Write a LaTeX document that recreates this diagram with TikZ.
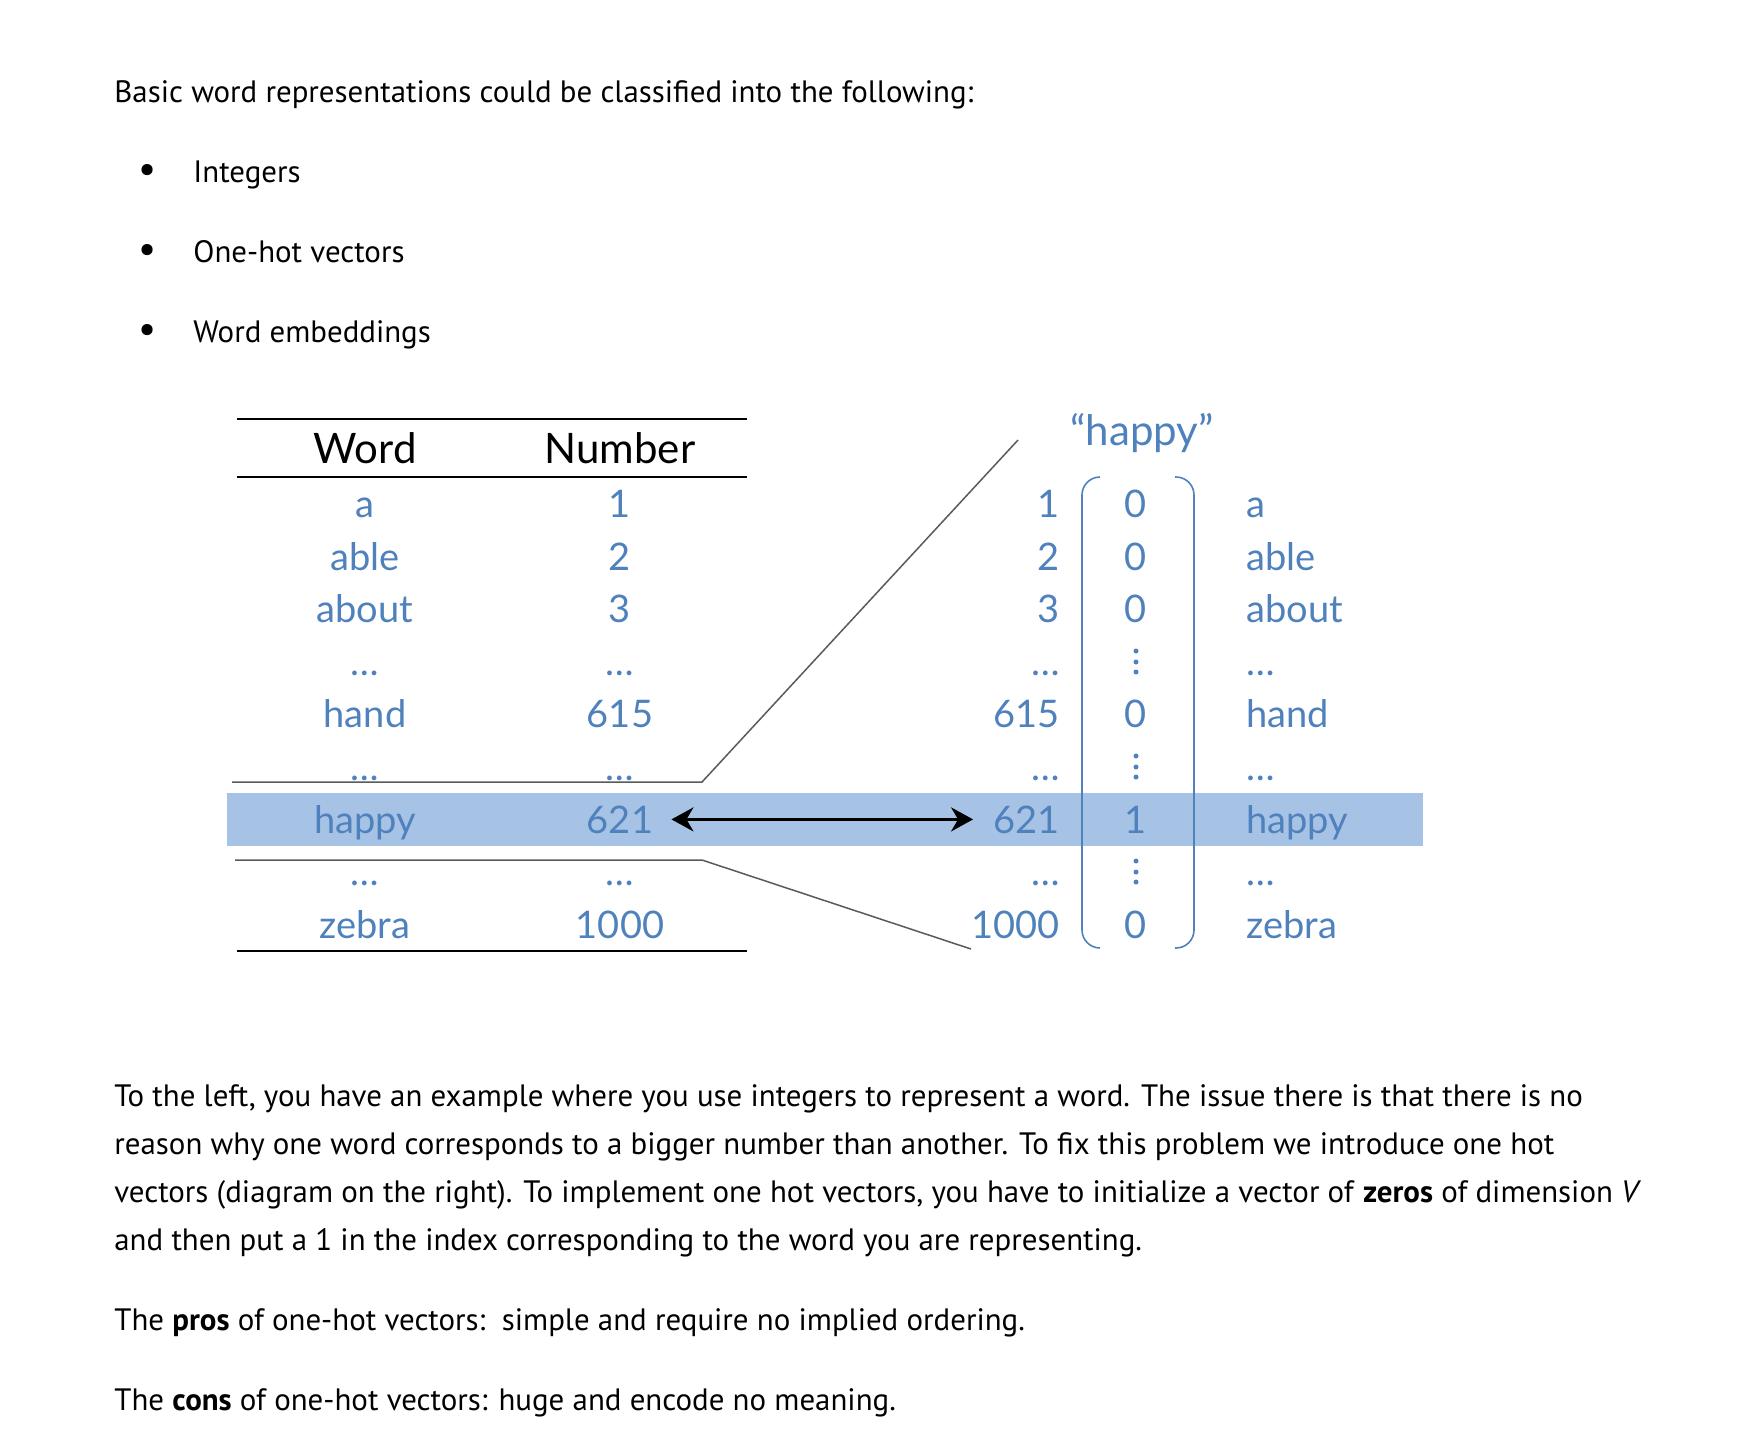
\documentclass[tikz,border=0pt]{standalone}
\usepackage{fontspec}
\setmainfont{PT Sans}
\newfontfamily\latofont{Lato}
\usepackage{tikz}
\usetikzlibrary{arrows.meta}
\usepackage{xcolor}

\definecolor{vecblue}{RGB}{79,129,189}
\definecolor{bandblue}{RGB}{166,195,230}
\definecolor{zoomgray}{RGB}{90,90,90}

\tikzset{
    bodytext/.style={anchor=base west, inner sep=0pt, font=\fontsize{15.45}{18}\selectfont},
    dotitem/.style={anchor=base, inner sep=0pt, font=\fontsize{20}{22}\selectfont},
    headtext/.style={anchor=base, inner sep=0pt, font=\latofont\fontsize{21}{24}\selectfont},
    cell/.style={anchor=base, inner sep=0pt, text=vecblue, font=\latofont\fontsize{19}{22}\selectfont},
    rule/.style={line width=1pt},
    zoomline/.style={draw=zoomgray, line width=0.75pt},
    paren/.style={draw=vecblue, line width=0.8pt, rounded corners=9pt}
}

\begin{document}
\begin{tikzpicture}[x=0.5pt, y=-0.5pt, >={Stealth[length=11pt, width=12pt, inset=3.5pt]}]
    \useasboundingbox (0,0) rectangle (1754,1430);

    % intro and list
    \node[bodytext] (intro) at (114,102) {Basic word representations could be classified into the following:};
    \node[dotitem] (dot1) at (148,182) {\textbullet};
    \node[bodytext] (item1) at (193,182) {Integers};
    \node[dotitem] (dot2) at (148,262) {\textbullet};
    \node[bodytext] (item2) at (193,262) {One-hot vectors};
    \node[dotitem] (dot3) at (148,342) {\textbullet};
    \node[bodytext] (item3) at (193,342) {Word embeddings};

    % highlighted row
    \fill[bandblue] (227,793) rectangle (1423,846);

    % table rules
    \draw[rule] (237,419) -- (747,419);
    \draw[rule] (237,477) -- (747,477);
    \draw[rule] (237,951) -- (747,951);

    % zoom lines
    \coordinate (uleft) at (232,782);
    \coordinate (ubend) at (702,782);
    \coordinate (utop) at (1018,440);
    \coordinate (lleft) at (235,860);
    \coordinate (lbend) at (702,860);
    \coordinate (lbot) at (971,949);
    \draw[zoomline] (uleft) -- (ubend) -- (utop);
    \draw[zoomline] (lleft) -- (lbend) -- (lbot);

    % table
    \node[headtext] (hword) at (365,463) {Word};
    \node[headtext] (hnum) at (620,463) {Number};

    \node[cell] (wa) at (365,517) {a};
    \node[cell] (wable) at (365,570) {able};
    \node[cell] (wabout) at (365,622) {about};
    \node[cell] (wdots1) at (365,675) {…};
    \node[cell] (whand) at (365,727) {hand};
    \node[cell] (wdots2) at (365,780) {…};
    \node[cell] (whappy) at (365,833) {happy};
    \node[cell] (wdots3) at (365,885) {…};
    \node[cell] (wzebra) at (365,938) {zebra};

    \node[cell] (n1) at (620,517) {1};
    \node[cell] (n2) at (620,570) {2};
    \node[cell] (n3) at (620,622) {3};
    \node[cell] (ndots1) at (620,675) {…};
    \node[cell] (n615) at (620,727) {615};
    \node[cell] (ndots2) at (620,780) {…};
    \node[cell] (n621) at (620,833) {621};
    \node[cell] (ndots3) at (620,885) {…};
    \node[cell] (n1000) at (620,938) {1000};

    % one-hot vector
    \node[cell, font=\latofont\fontsize{21}{25}\selectfont] (vlabel) at (1142,445) {“happy”};

    \node[cell, anchor=base east] (i1) at (1060,517) {1};
    \node[cell, anchor=base east] (i2) at (1060,570) {2};
    \node[cell, anchor=base east] (i3) at (1060,622) {3};
    \node[cell, anchor=base east] (idots1) at (1060,675) {…};
    \node[cell, anchor=base east] (i615) at (1060,727) {615};
    \node[cell, anchor=base east] (idots2) at (1060,780) {…};
    \node[cell, anchor=base east] (i621) at (1060,833) {621};
    \node[cell, anchor=base east] (idots3) at (1060,885) {…};
    \node[cell, anchor=base east] (i1000) at (1060,938) {1000};

    \node[cell] (z1) at (1136,517) {0};
    \node[cell] (z2) at (1136,570) {0};
    \node[cell] (z3) at (1136,622) {0};
    \node[cell] (z615) at (1136,727) {0};
    \node[cell] (z621) at (1136,833) {1};
    \node[cell] (z1000) at (1136,938) {0};
    % vertical dots between the entries
    \fill[vecblue] (1136,651) circle (2.5) (1136,662) circle (2.5) (1136,672) circle (2.5);
    \fill[vecblue] (1136,756) circle (2.5) (1136,767) circle (2.5) (1136,777) circle (2.5);
    \fill[vecblue] (1136,861) circle (2.5) (1136,872) circle (2.5) (1136,882) circle (2.5);

    \node[cell, anchor=base west] (ra) at (1246,517) {a};
    \node[cell, anchor=base west] (rable) at (1246,570) {able};
    \node[cell, anchor=base west] (rabout) at (1246,622) {about};
    \node[cell, anchor=base west] (rdots1) at (1246,675) {…};
    \node[cell, anchor=base west] (rhand) at (1246,727) {hand};
    \node[cell, anchor=base west] (rdots2) at (1246,780) {…};
    \node[cell, anchor=base west] (rhappy) at (1246,833) {happy};
    \node[cell, anchor=base west] (rdots3) at (1246,885) {…};
    \node[cell, anchor=base west] (rzebra) at (1246,938) {zebra};

    \draw[paren] (1100,477) -- (1082,477) -- (1082,948) -- (1100,948);
    \draw[paren] (1175,477) -- (1194,477) -- (1194,948) -- (1175,948);

    \draw[<->, line width=1.5pt, shorten <=9pt, shorten >=10pt] (n621.east) -- (i621.west);

    % explanation
    \node[bodytext] (line1) at (114,1106) {To the left, you have an example where you use integers to represent a word. The issue there is that there is no};
    \node[bodytext] (line2) at (114,1154) {reason why one word corresponds to a bigger number than another. To fix this problem we introduce one hot};
    \node[bodytext] (line3) at (114,1202) {vectors (diagram on the right). To implement one hot vectors, you have to initialize a vector of \textbf{zeros} of dimension \textit{V}};
    \node[bodytext] (line4) at (114,1250) {and then put a 1 in the index corresponding to the word you are representing.};
    \node[bodytext] (pros) at (114,1330) {The \textbf{pros} of one-hot vectors:\ \ simple and require no implied ordering.};
    \node[bodytext] (cons) at (114,1410) {The \textbf{cons} of one-hot vectors: huge and encode no meaning.};
\end{tikzpicture}
\end{document}
